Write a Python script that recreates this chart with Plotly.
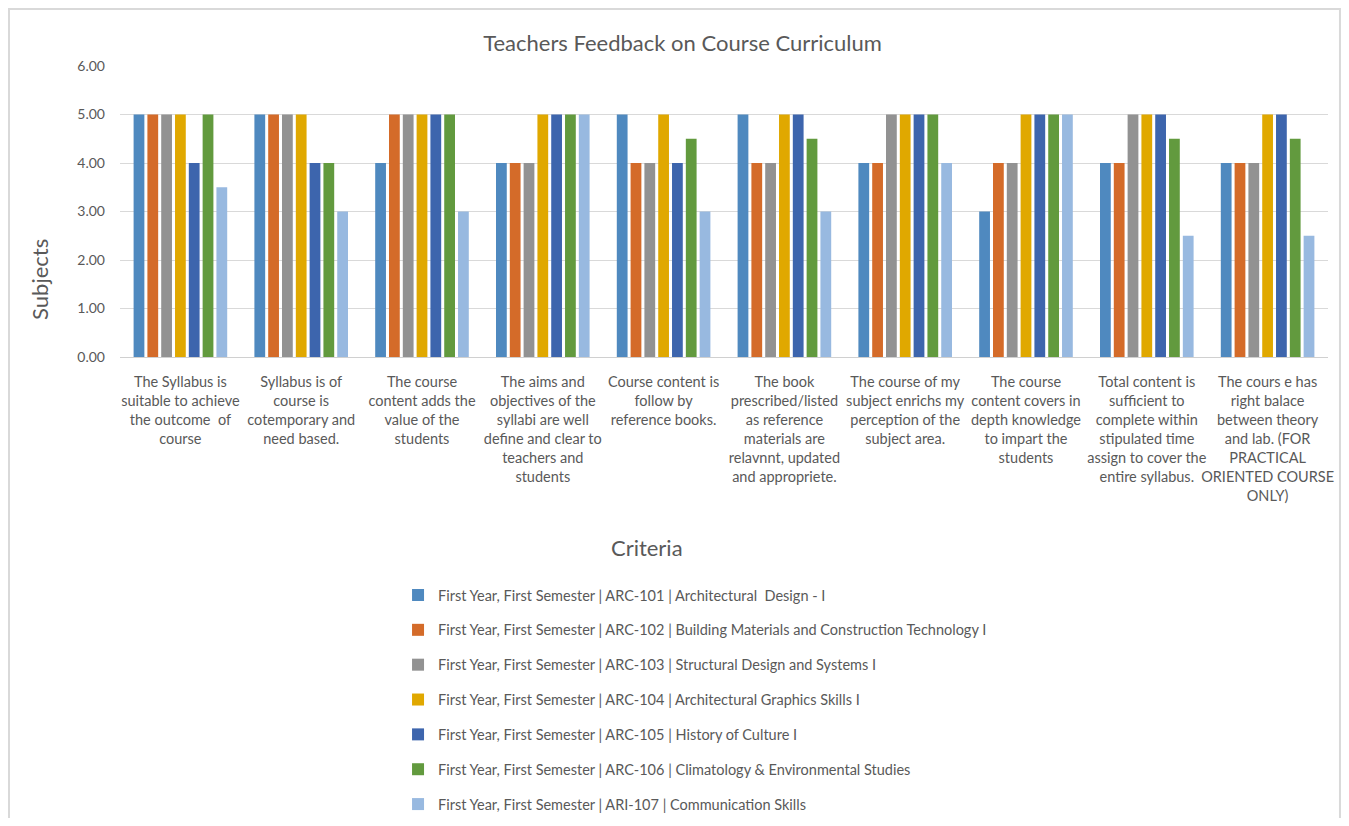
import plotly.graph_objects as go

# ══════════════════════════════════
# DATA
# ══════════════════════════════════
criteria = [
    "The Syllabus is<br>suitable to achieve<br>the outcome  of<br>course",
    "Syllabus is of<br>course is<br>cotemporary and<br>need based.",
    "The course<br>content adds the<br>value of the<br>students",
    "The aims and<br>objectives of the<br>syllabi are well<br>define and clear to<br>teachers and<br>students",
    "Course content is<br>follow by<br>reference books.",
    "The book<br>prescribed/listed<br>as reference<br>materials are<br>relavnnt, updated<br>and appropriete.",
    "The course of my<br>subject enrichs my<br>perception of the<br>subject area.",
    "The course<br>content covers in<br>depth knowledge<br>to impart the<br>students",
    "Total content is<br>sufficient to<br>complete within<br>stipulated time<br>assign to cover the<br>entire syllabus.",
    "The cours e has<br>right balace<br>between theory<br>and lab. (FOR<br>PRACTICAL<br>ORIENTED COURSE<br>ONLY)",
]

subjects = [
    "First Year, First Semester | ARC-101 | Architectural \u00a0Design - I",
    "First Year, First Semester | ARC-102 | Building Materials and Construction Technology I",
    "First Year, First Semester | ARC-103 | Structural Design and Systems I",
    "First Year, First Semester | ARC-104 | Architectural Graphics Skills I",
    "First Year, First Semester | ARC-105 | History of Culture I",
    "First Year, First Semester | ARC-106 | Climatology & Environmental Studies",
    "First Year, First Semester | ARI-107 | Communication Skills",
]

arc101 = [5, 5, 4, 4, 5, 5, 4, 3, 4, 4]
arc102 = [5, 5, 5, 4, 4, 4, 4, 4, 4, 4]
arc103 = [5, 5, 5, 4, 4, 4, 5, 4, 5, 4]
arc104 = [5, 5, 5, 5, 5, 5, 5, 5, 5, 5]
arc105 = [4, 4, 5, 5, 4, 5, 5, 5, 5, 5]
arc106 = [5, 4, 5, 5, 4.5, 4.5, 5, 5, 4.5, 4.5]
ari107 = [3.5, 3, 3, 5, 3, 3, 4, 5, 2.5, 2.5]

series = [arc101, arc102, arc103, arc104, arc105, arc106, ari107]
colors = ["#4f89bf", "#d46b29", "#929292", "#e0a800", "#3d65ad", "#629a3e", "#98b9e0"]

TEXT = "#595959"
FONT = "Lato"

# ══════════════════════════════════
# CHART
# ══════════════════════════════════
fig = go.Figure()
for name, vals, col in zip(subjects, series, colors):
    fig.add_trace(go.Bar(
        x=criteria,
        y=vals,
        name=name,
        legendgroup=name,
        marker=dict(color=col, line=dict(width=0)),
    ))

fig.update_layout(
    width=1333,
    height=810,
    margin=dict(l=112, r=13, t=58, b=461, autoexpand=False),
    paper_bgcolor="white",
    plot_bgcolor="white",
    font=dict(family=FONT, color=TEXT),
    title=dict(
        text="Teachers Feedback on Course Curriculum",
        x=0.506, xanchor="center", y=1 - 35 / 810, yanchor="middle",
        font=dict(size=22, color=TEXT, family=FONT),
    ),
    barmode="group",
    bargap=0.2,
    bargroupgap=0.22,
    showlegend=True,
    legend=dict(
        orientation="v",
        xref="container", yref="container",
        x=0.2926, xanchor="left",
        y=0.295, yanchor="top",
        font=dict(size=14.5, color=TEXT, family=FONT),
        tracegroupgap=13,
        bgcolor="rgba(0,0,0,0)",
    ),
    xaxis=dict(
        showgrid=False,
        showline=True,
        linecolor="#d0d0d0",
        linewidth=1,
        ticks="",
        tickangle=0,
        ticklabelstandoff=12,
        tickfont=dict(size=14.5, color=TEXT, family=FONT),
    ),
    yaxis=dict(
        range=[0, 6],
        dtick=1,
        tickformat=".2f",
        showgrid=True,
        gridcolor="#d9d9d9",
        gridwidth=1,
        zeroline=False,
        showline=False,
        ticks="",
        ticklabelstandoff=14,
        tickfont=dict(size=14, color=TEXT, family=FONT),
    ),
    annotations=[
        dict(text="Subjects", xref="paper", yref="paper", x=-0.0662, y=0.265,
             textangle=-90, showarrow=False, xanchor="center", yanchor="middle",
             font=dict(size=22, color=TEXT, family=FONT)),
        dict(text="Criteria", xref="paper", yref="paper", x=0.436, y=-0.656,
             showarrow=False, xanchor="center", yanchor="middle",
             font=dict(size=22, color=TEXT, family=FONT)),
    ],
    shapes=[
        dict(type="rect", xref="paper", yref="paper",
             x0=-0.0919, x1=1.0099, y0=-1.653, y1=1.1959,
             line=dict(color="#d9d9d9", width=2), layer="below"),
    ],
)

fig.write_html("out.html")
